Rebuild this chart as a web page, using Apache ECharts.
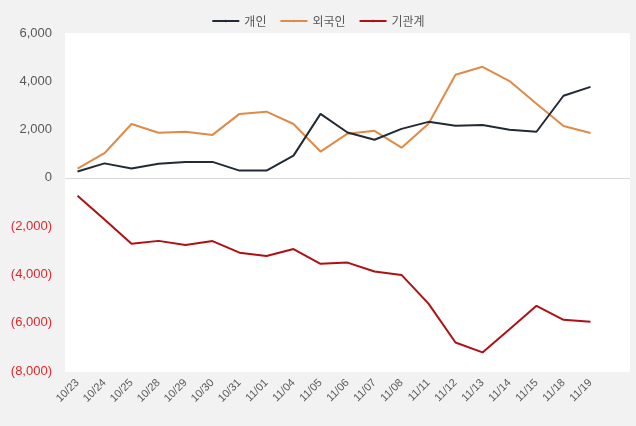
<!DOCTYPE html>
<html>
<head>
<meta charset="utf-8">
<script src="https://cdn.jsdelivr.net/npm/echarts@6/dist/echarts.min.js"></script>
<style>
html,body{margin:0;padding:0;background:#f2f2f2;}
#c{width:636px;height:426px;}
</style>
</head>
<body>
<div id="c"></div>
<script>
var categories = ['10/23','10/24','10/25','10/28','10/29','10/30','10/31','11/01','11/04','11/05','11/06','11/07','11/08','11/11','11/12','11/13','11/14','11/15','11/18','11/19'];
var individual = [260, 600, 390, 580, 660, 660, 300, 300, 920, 2650, 1880, 1580, 2030, 2320, 2160, 2190, 1990, 1910, 3400, 3770];
var foreign = [380, 1020, 2230, 1870, 1910, 1780, 2650, 2740, 2230, 1090, 1830, 1950, 1250, 2240, 4270, 4600, 4010, 3070, 2150, 1860];
var institution = [-740, -1720, -2730, -2610, -2780, -2620, -3100, -3240, -2950, -3560, -3510, -3880, -4020, -5210, -6820, -7230, -6270, -5300, -5880, -5960];
var yTicks = {min: -8000, max: 6000, interval: 2000};

var chart = echarts.init(document.getElementById('c'));
var font = 'Liberation Sans, Noto Sans CJK KR, sans-serif';
chart.setOption({
  backgroundColor: '#f2f2f2',
  animation: false,
  legend: {
    top: 10, left: 'center',
    itemWidth: 27, itemHeight: 3, itemGap: 13,
    textStyle: {color: '#595959', fontSize: 12, fontFamily: 'Noto Sans CJK KR, sans-serif'},
    data: ['개인', '외국인', '기관계']
  },
  grid: {left: 64, right: 32, top: 33, bottom: 55, containLabel: false},
  xAxis: {
    type: 'category', data: categories, boundaryGap: true,
    axisLine: {show: false}, axisTick: {show: false},
    axisLabel: {rotate: 45, color: '#595959', fontSize: 11, fontFamily: font, margin: 10, interval: 0}
  },
  yAxis: {
    type: 'value', min: yTicks.min, max: yTicks.max, interval: yTicks.interval,
    splitLine: {show: false}, axisLine: {show: false}, axisTick: {show: false},
    axisLabel: {
      margin: 12, fontSize: 13, fontFamily: font, color: '#595959',
      formatter: function (v) {
        var s = Math.abs(v).toLocaleString('en-US');
        return v < 0 ? '{neg|(' + s + ')}' : s;
      },
      rich: {neg: {color: '#e0262b', fontSize: 13, fontFamily: font}}
    }
  },
  series: [
    {
      name: '개인', type: 'line', data: individual, symbol: 'none', z: 3,
      lineStyle: {width: 2, color: '#222a35'}, itemStyle: {color: '#222a35'}
    },
    {
      name: '외국인', type: 'line', data: foreign, symbol: 'none', z: 2,
      lineStyle: {width: 2, color: '#e08a47'}, itemStyle: {color: '#e08a47'}
    },
    {
      name: '기관계', type: 'line', data: institution, symbol: 'none', z: 2,
      lineStyle: {width: 2, color: '#ad1114'}, itemStyle: {color: '#ad1114'}
    }
  ]
});
var yTop = chart.convertToPixel({yAxisIndex: 0}, yTicks.max);
var yBot = chart.convertToPixel({yAxisIndex: 0}, yTicks.min);
var yZero = Math.round(chart.convertToPixel({yAxisIndex: 0}, 0)) + 0.5;
chart.setOption({
  graphic: [
    {type: 'rect', z: -10, silent: true,
     shape: {x: 65, y: yTop, width: 565, height: yBot - yTop + 1},
     style: {fill: '#ffffff'}},
    {type: 'line', z: -5, silent: true,
     shape: {x1: 65, y1: yZero, x2: 630, y2: yZero},
     style: {stroke: '#d9d9d9', lineWidth: 1}}
  ]
});
</script>
</body>
</html>
